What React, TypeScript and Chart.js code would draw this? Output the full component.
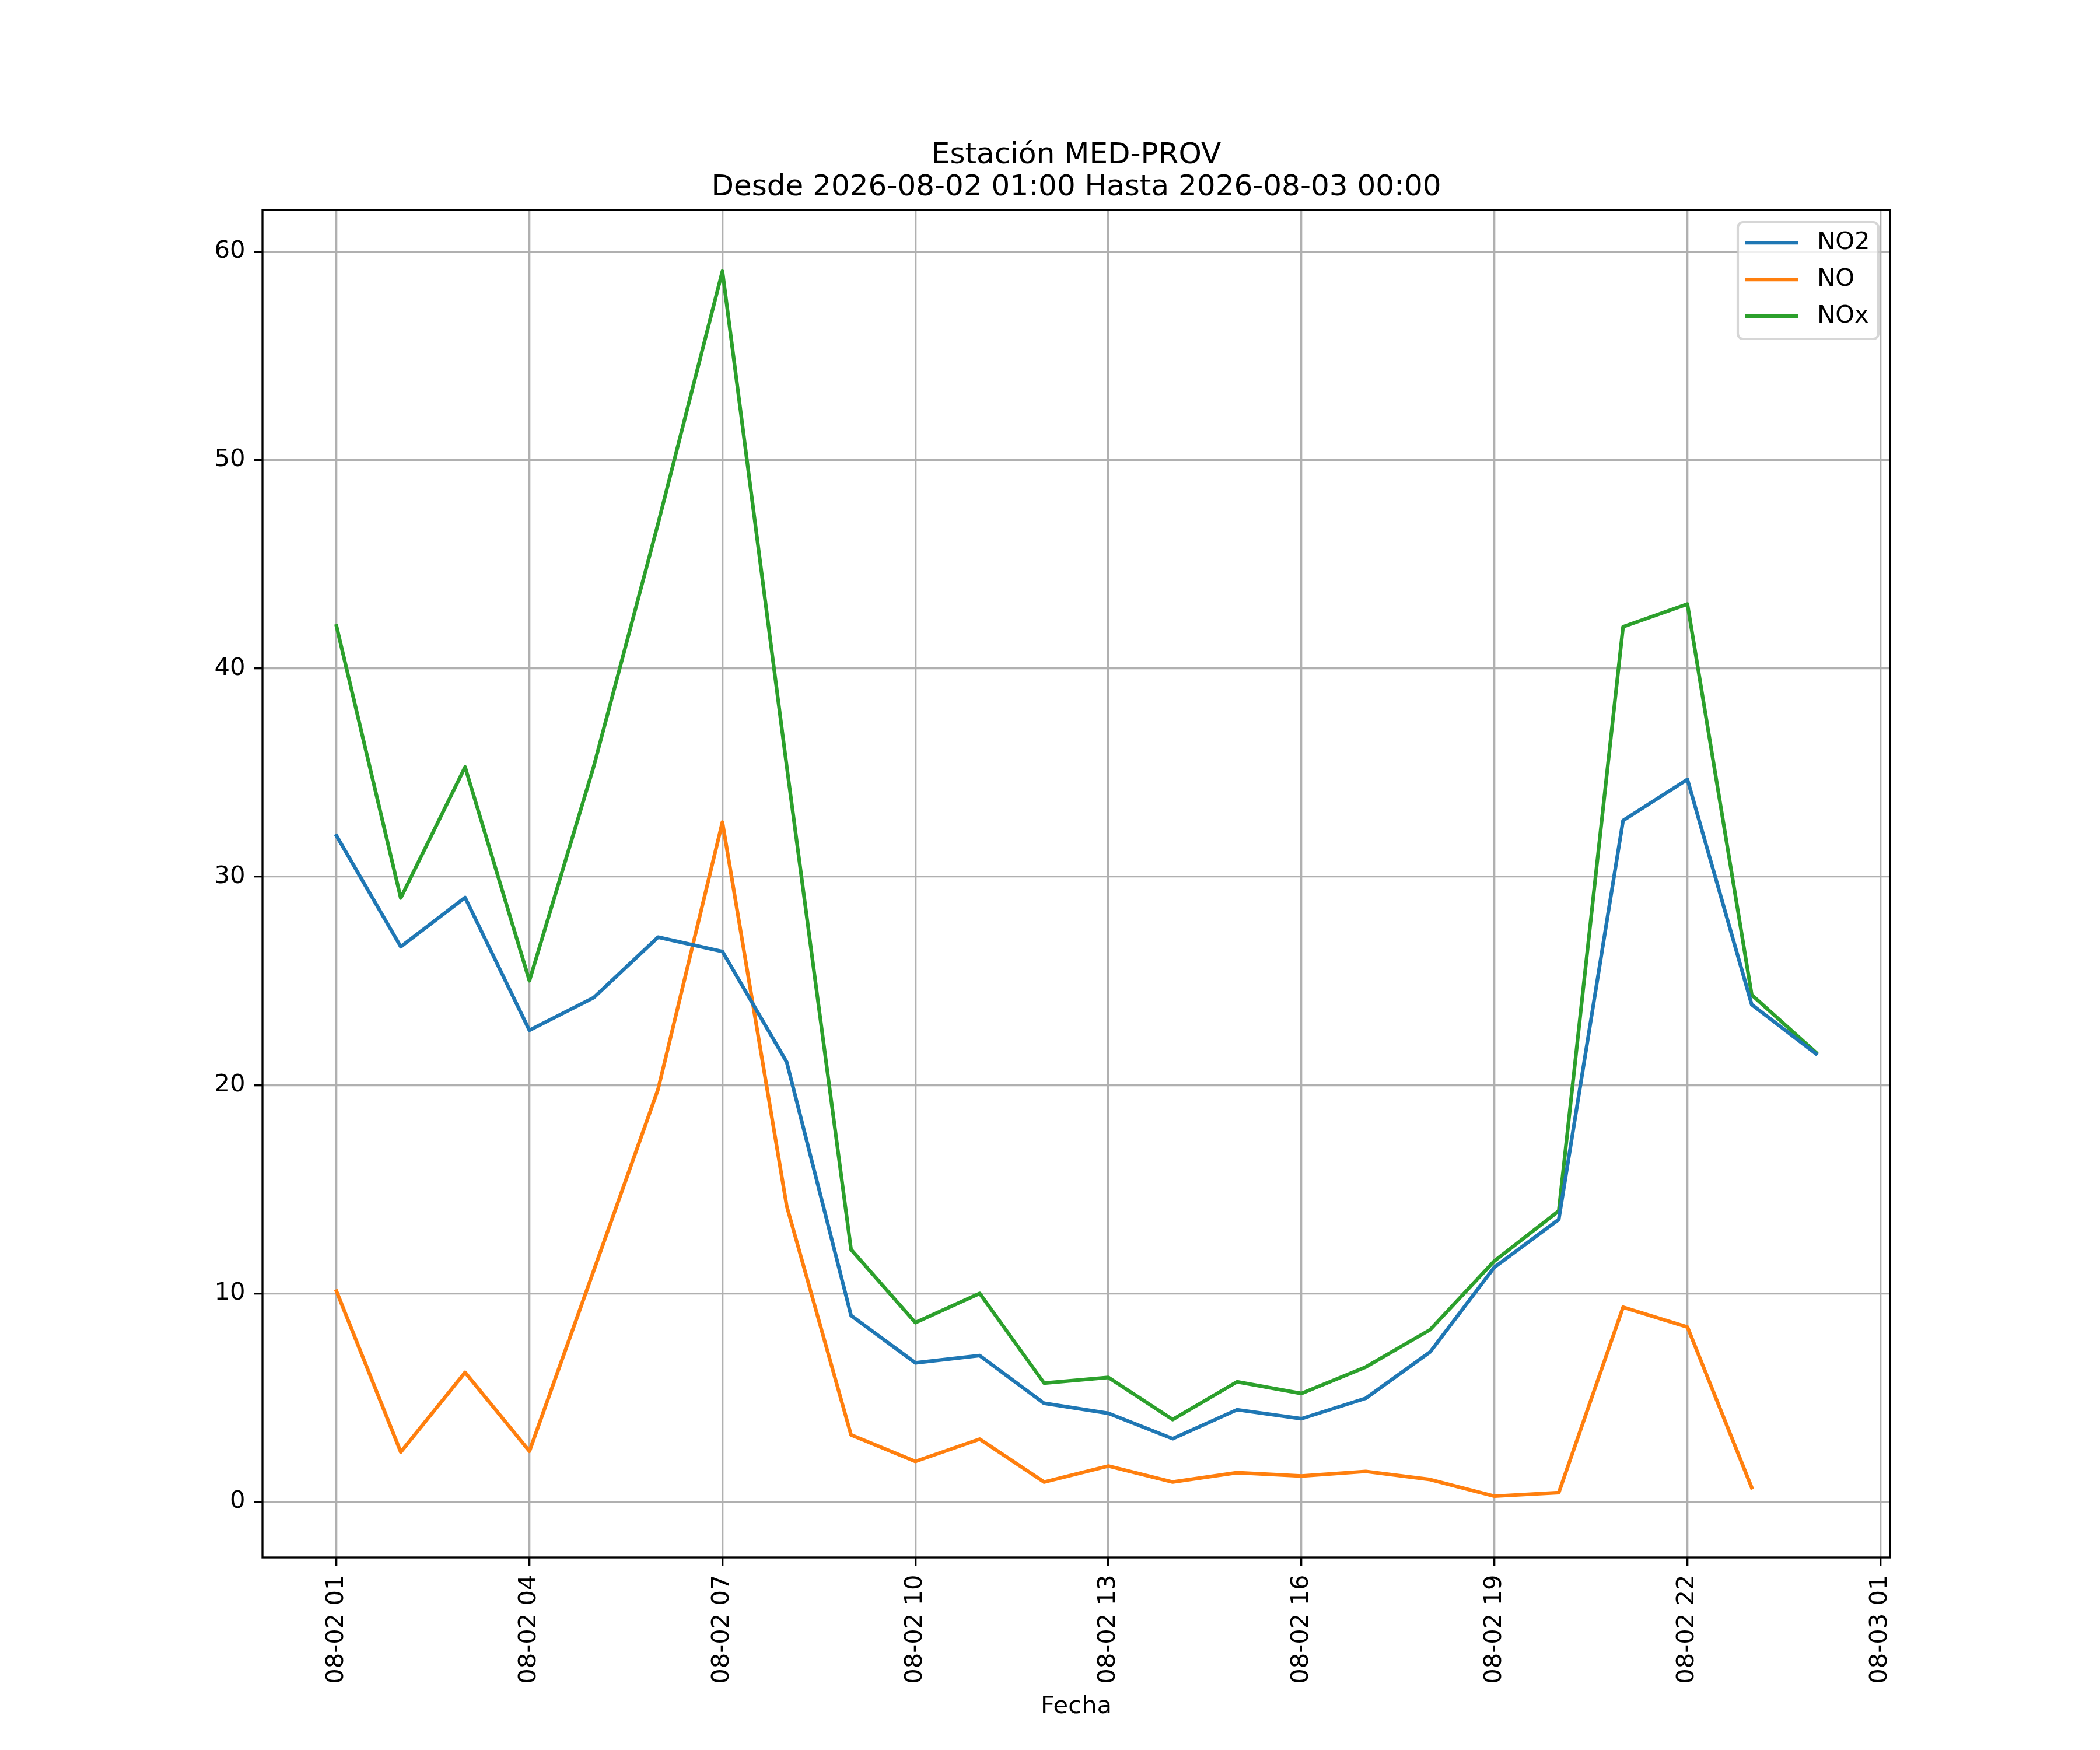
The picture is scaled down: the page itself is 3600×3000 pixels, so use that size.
import { useEffect, useRef } from 'react';
import { Chart, registerables } from 'chart.js';

Chart.register(...registerables);

// hours since 2026-08-02 00:00 (24 = 2026-08-03 00:00)
const hours = [1, 2, 3, 4, 5, 6, 7, 8, 9, 10, 11, 12, 13, 14, 15, 16, 17, 18, 19, 20, 21, 22, 23, 24];

const no2 = [
  31.97, 26.64, 29.0, 22.63, 24.2, 27.1, 26.41, 21.1, 8.94, 6.67, 7.02, 4.73,
  4.25, 3.03, 4.42, 3.99, 4.97, 7.19, 11.26, 13.55, 32.7, 34.67, 23.86, 21.5,
];
const no = [
  10.11, 2.39, 6.21, 2.43, 11.1, 19.8, 32.62, 14.19, 3.21, 1.94, 3.01, 0.95,
  1.72, 0.95, 1.4, 1.24, 1.46, 1.07, 0.27, 0.44, 9.34, 8.39, 0.68, null,
];
const nox = [
  42.04, 28.98, 35.27, 25.01, 35.3, 46.95, 59.06, 35.3, 12.11, 8.6, 10.0, 5.7,
  5.97, 3.95, 5.76, 5.2, 6.47, 8.26, 11.56, 13.96, 42.0, 43.09, 24.33, 21.56,
];

const seriesNames = ['NO2', 'NO', 'NOx'];
const seriesValues = [no2, no, nox];
const seriesColors = ['#1f77b4', '#ff7f0e', '#2ca02c'];

const xTickHours = [1, 4, 7, 10, 13, 16, 19, 22, 25];
const xTickLabels = [
  '08-02 01', '08-02 04', '08-02 07', '08-02 10', '08-02 13',
  '08-02 16', '08-02 19', '08-02 22', '08-03 01',
];
const yTicks = [0, 10, 20, 30, 40, 50, 60];

const titleLines = ['Estación MED-PROV', 'Desde 2026-08-02 01:00 Hasta 2026-08-03 00:00'];
const xAxisTitle = 'Fecha';

const FONT = "'DejaVu Sans', sans-serif";
const PT = 300 / 72; // matplotlib points -> px at 300 dpi

// matplotlib-like 5% margins
function withMargin(values: number[]) {
  const lo = Math.min(...values);
  const hi = Math.max(...values);
  const m = (hi - lo) * 0.05;
  return { min: lo - m, max: hi + m };
}

const decorPlugin = {
  id: 'mplDecor',
  afterDatasetsDraw(chart: Chart) {
    const { ctx, chartArea: a } = chart;
    ctx.save();

    // axes frame
    ctx.strokeStyle = '#000';
    ctx.lineWidth = 0.8 * PT;
    ctx.strokeRect(a.left, a.top, a.right - a.left, a.bottom - a.top);

    // legend, upper right
    const w = 241;
    const h = 200;
    const bx = a.right - 20 - w;
    const by = a.top + 21;
    ctx.beginPath();
    ctx.roundRect(bx, by, w, h, 9);
    ctx.fillStyle = 'rgba(255,255,255,0.8)';
    ctx.fill();
    ctx.strokeStyle = 'rgba(204,204,204,0.8)';
    ctx.lineWidth = 1.0 * PT;
    ctx.stroke();

    ctx.font = `${10 * PT}px ${FONT}`;
    ctx.textBaseline = 'middle';
    ctx.textAlign = 'left';
    chart.data.datasets.forEach((ds, i) => {
      const y = by + 35 + i * 63;
      ctx.beginPath();
      ctx.moveTo(bx + 13, y);
      ctx.lineTo(bx + 103, y);
      ctx.strokeStyle = ds.borderColor as string;
      ctx.lineWidth = 1.5 * PT;
      ctx.stroke();
      ctx.fillStyle = '#000';
      ctx.fillText(ds.label as string, bx + 136, y);
    });
    ctx.restore();
  },
  afterDraw(chart: Chart) {
    const { ctx, chartArea: a } = chart;
    const cx = (a.left + a.right) / 2;
    ctx.save();
    ctx.fillStyle = '#000';
    ctx.textAlign = 'center';
    ctx.textBaseline = 'alphabetic';

    ctx.font = `${12 * PT}px ${FONT}`;
    ctx.fillText(titleLines[0], cx, a.top - 80);
    ctx.fillText(titleLines[1], cx, a.top - 25);

    ctx.font = `${10 * PT}px ${FONT}`;
    ctx.fillText(xAxisTitle, cx, a.bottom + 267);
    ctx.restore();
  },
};

export default function App() {
  const chartRef = useRef<HTMLCanvasElement>(null);
  const chartInstance = useRef<Chart | null>(null);

  useEffect(() => {
    document.body.style.margin = '0';
    if (!chartRef.current) return;
    const ctx = chartRef.current.getContext('2d');
    if (!ctx) return;

    const xr = withMargin(hours);
    const yr = withMargin(seriesValues.flat().filter((v): v is number => v !== null));

    chartInstance.current = new Chart(ctx, {
      type: 'line',
      data: {
        datasets: seriesNames.map((name, i) => ({
          label: name,
          data: hours.map((hr, j) => ({ x: hr, y: seriesValues[i][j] })),
          borderColor: seriesColors[i],
          backgroundColor: seriesColors[i],
          borderWidth: 1.5 * PT,
          pointRadius: 0,
          tension: 0,
          spanGaps: false,
          borderJoinStyle: 'round',
          borderCapStyle: 'square',
        })),
      },
      options: {
        responsive: false,
        animation: false,
        devicePixelRatio: 1,
        layout: { padding: { top: 360, right: 360, left: 0, bottom: 0 } },
        plugins: {
          legend: { display: false },
          title: { display: false },
          tooltip: { enabled: false },
        },
        scales: {
          x: {
            type: 'linear',
            min: xr.min,
            max: xr.max,
            afterBuildTicks: (scale) => {
              scale.ticks = xTickHours.map((v) => ({ value: v }));
            },
            afterFit: (scale) => {
              scale.height = 330;
            },
            grid: {
              color: '#b0b0b0',
              lineWidth: 0.8 * PT,
              tickColor: '#000',
              tickWidth: 0.8 * PT,
              tickLength: 3.5 * PT,
            },
            border: { display: false },
            ticks: {
              autoSkip: false,
              minRotation: 90,
              maxRotation: 90,
              padding: 15,
              color: '#000',
              font: { family: FONT, size: 10 * PT },
              callback: (_v, index) => xTickLabels[index],
            },
          },
          y: {
            type: 'linear',
            min: yr.min,
            max: yr.max,
            afterBuildTicks: (scale) => {
              scale.ticks = yTicks.map((v) => ({ value: v }));
            },
            afterFit: (scale) => {
              scale.width = 450;
            },
            grid: {
              color: '#b0b0b0',
              lineWidth: 0.8 * PT,
              tickColor: '#000',
              tickWidth: 0.8 * PT,
              tickLength: 3.5 * PT,
            },
            border: { display: false },
            ticks: {
              padding: 15,
              color: '#000',
              font: { family: FONT, size: 10 * PT },
              callback: (v) => String(v),
            },
          },
        },
      },
      plugins: [decorPlugin],
    });

    return () => {
      if (chartInstance.current) {
        chartInstance.current.destroy();
        chartInstance.current = null;
      }
    };
  }, []);

  return (
    <div style={{ width: 3600, height: 3000, background: '#fff' }}>
      <canvas ref={chartRef} width={3600} height={3000} style={{ display: 'block' }} />
    </div>
  );
}
